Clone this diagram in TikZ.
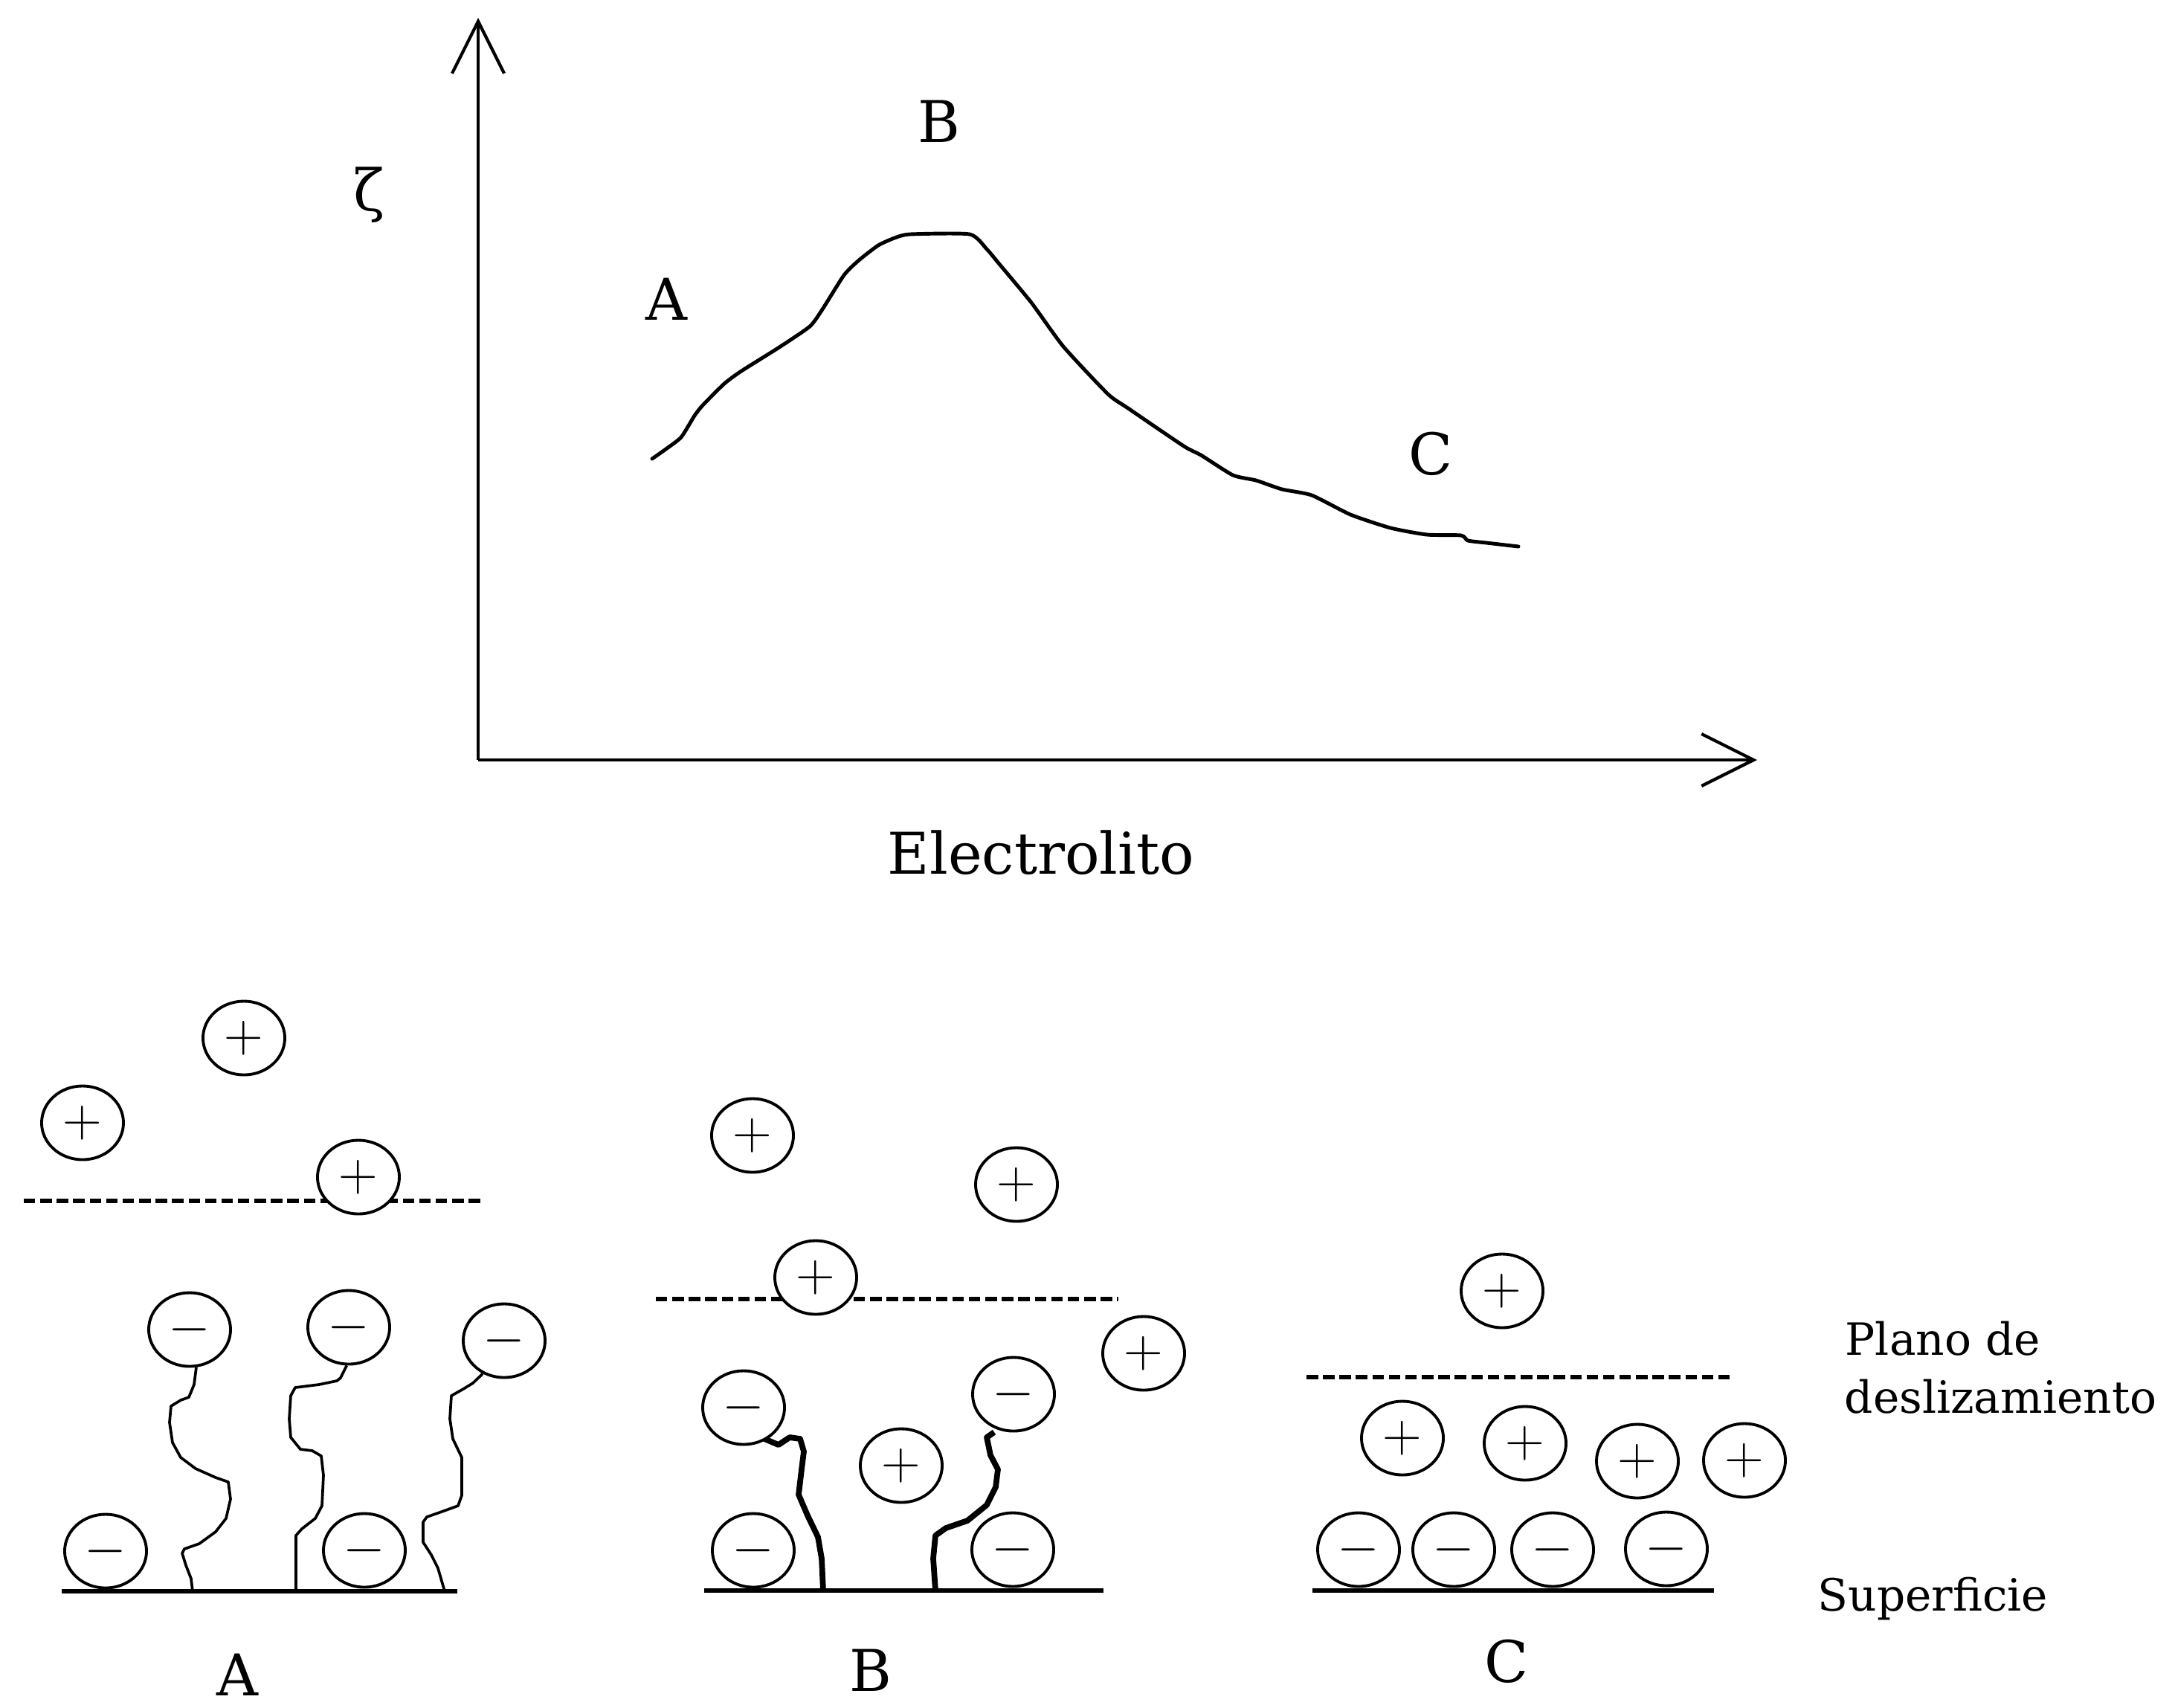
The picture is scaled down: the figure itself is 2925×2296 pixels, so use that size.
\documentclass[tikz,border=0pt]{standalone}
\usepackage{fontspec}
\setmainfont{DejaVu Serif}
\usetikzlibrary{shapes.geometric,arrows.meta}

\begin{document}
\begin{tikzpicture}[x=0.01cm,y=-0.01cm,
  ion/.style={ellipse,draw,fill=white,line width=1.1pt,minimum width=1.10cm,
    minimum height=0.99cm,inner sep=0pt,font=\fontsize{20}{24}\selectfont},
  lbl/.style={font=\fontsize{22}{27}\selectfont,inner sep=0pt,anchor=base},
  side/.style={font=\fontsize{17}{22}\selectfont,inner sep=0pt,anchor=base west},
  axis/.style={line width=1.2pt,-{Straight Barb[length=0.7cm,width=0.7cm]}},
  zcurve/.style={line width=1.4pt,line join=round,line cap=round},
  slip/.style={line width=1.5pt,dash pattern=on 4.4pt off 1.9pt},
  surf/.style={line width=1.5pt},
  chain/.style={line width=1.05pt,line join=round},
  stiffchain/.style={line width=2.2pt,line join=round}
]
\useasboundingbox (0,0) rectangle (2925,2296);

% ---------------- zeta potential versus electrolyte ----------------
\coordinate (O) at (643,1022);
\coordinate (ytop) at (643,24);
\coordinate (xend) at (2363,1022);
\draw[axis] (O) -- (ytop);
\draw[axis] (O) -- (xend);

\draw[zcurve] plot[smooth,tension=0.35] coordinates {
  (877,617) (894,605) (916,588) (934,559) (945,545) (974,516) (997,499)
  (1048,467) (1089,439) (1106,416) (1135,370) (1155,350) (1181,330)
  (1203,320) (1224,315) (1304,315) (1327,335) (1343,354) (1387,407)
  (1430,466) (1490,530) (1517,549) (1592,600) (1615,612) (1658,639)
  (1689,646) (1724,658) (1764,666) (1816,692) (1870,710) (1919,719)
  (1965,720) (1974,727) (1999,730) (2042,735)};

\node[lbl,anchor=center] (zeta) at (496,262) {ζ};
\node[lbl] (gA) at (896,430) {A};
\node[lbl] (gB) at (1263,191) {B};
\node[lbl] (gC) at (1924,638) {C};
\node[lbl] (xlab) at (1400,1175) {Electrolito};

% ---------------- panel A ----------------
\coordinate (sA1) at (83,2140);  \coordinate (sA2) at (615,2140);
\coordinate (dA1) at (32,1615);  \coordinate (dA2) at (647,1615);
\draw[surf] (sA1) -- (sA2);
\draw[slip] (dA1) -- (dA2);

\node[ion] (pA1) at (328,1396) {$+$};
\node[ion] (pA2) at (111,1510) {$+$};
\node[ion] (pA3) at (482,1583) {$+$};
\node[ion] (mA1) at (255,1788) {$-$};
\node[ion] (mA2) at (469,1785) {$-$};
\node[ion] (mA3) at (678,1803) {$-$};
\node[ion] (mA4) at (142,2086) {$-$};
\node[ion] (mA5) at (490,2085) {$-$};

\draw[chain] plot coordinates {(mA1.-80) (261,1862) (254,1879) (243,1883)
  (230,1891) (228,1913) (232,1940) (243,1960) (263,1975) (290,1987)
  (307,1993) (310,2016) (304,2042) (290,2060) (268,2076) (248,2083)
  (245,2089) (250,2105) (257,2123) (259,2140)};
\draw[chain] plot coordinates {(mA2.-93) (458,1853) (453,1857) (429,1862)
  (397,1866) (391,1877) (389,1908) (391,1933) (404,1949) (420,1951)
  (432,1958) (435,1984) (433,2025) (424,2042) (406,2056) (398,2065)
  (398,2140)};
\draw[chain] plot coordinates {(mA3.-123) (636,1860) (623,1868) (607,1877)
  (605,1908) (609,1935) (621,1960) (621,1984) (621,2011) (616,2025)
  (594,2033) (574,2040) (569,2047) (569,2074) (580,2091) (589,2109)
  (598,2140)};

\node[lbl] (labA) at (319,2280) {A};

% ---------------- panel B ----------------
\coordinate (sB1) at (947,2139);  \coordinate (sB2) at (1484,2139);
\coordinate (dB1) at (882,1747);  \coordinate (dB2) at (1504,1747);
\draw[surf] (sB1) -- (sB2);
\draw[slip] (dB1) -- (dB2);

\draw[stiffchain] plot coordinates {(1028,1935) (1047,1943) (1062,1933)
  (1076,1935) (1081,1952) (1078,1976) (1074,2010) (1086,2038) (1100,2067)
  (1105,2096) (1107,2139)};
\draw[stiffchain] plot coordinates {(1337,1926) (1327,1933) (1332,1957)
  (1342,1976) (1339,2000) (1327,2024) (1301,2045) (1272,2055) (1258,2065)
  (1255,2096) (1258,2139)};

\node[ion] (pB1) at (1012,1527) {$+$};
\node[ion] (pB2) at (1367,1593) {$+$};
\node[ion] (pB3) at (1097,1718) {$+$};
\node[ion] (pB4) at (1538,1820) {$+$};
\node[ion] (mB1) at (1000,1893) {$-$};
\node[ion] (pB5) at (1212,1971) {$+$};
\node[ion] (mB2) at (1363,1875) {$-$};
\node[ion] (mB3) at (1013,2085) {$-$};
\node[ion] (mB4) at (1362,2084) {$-$};

\node[lbl] (labB) at (1171,2274) {B};

% ---------------- panel C ----------------
\coordinate (sC1) at (1765,2139);  \coordinate (sC2) at (2305,2139);
\coordinate (dC1) at (1757,1852);  \coordinate (dC2) at (2328,1852);
\draw[surf] (sC1) -- (sC2);
\draw[slip] (dC1) -- (dC2);

\node[ion] (pC1) at (2020,1736) {$+$};
\node[ion] (pC2) at (1886,1934) {$+$};
\node[ion] (pC3) at (2051,1941) {$+$};
\node[ion] (pC4) at (2202,1965) {$+$};
\node[ion] (pC5) at (2346,1964) {$+$};
\node[ion] (mC1) at (1827,2084) {$-$};
\node[ion] (mC2) at (1955,2084) {$-$};
\node[ion] (mC3) at (2088,2084) {$-$};
\node[ion] (mC4) at (2241,2083) {$-$};

\node[lbl] (labC) at (2026,2262) {C};

% ---------------- side captions ----------------
\node[side] (plano) at (2481,1822) {Plano de};
\node[side] (desl) at (2480,1900) {deslizamiento};
\node[side] (sup) at (2444,2166) {Superficie};
\end{tikzpicture}
\end{document}
